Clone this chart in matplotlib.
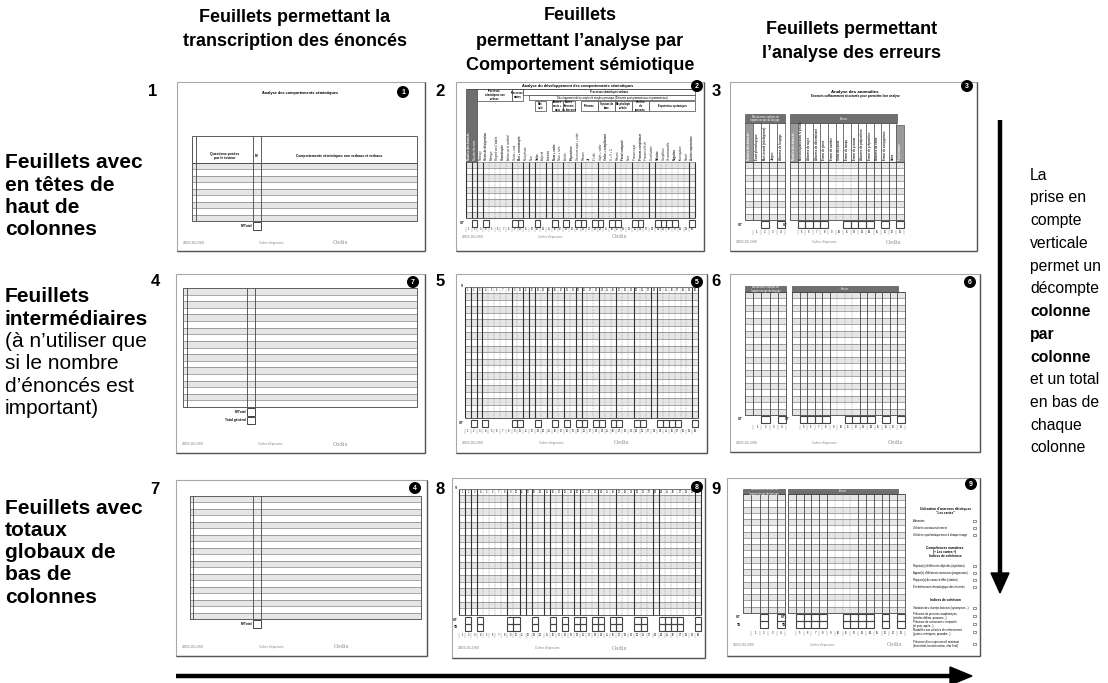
import matplotlib
matplotlib.use('Agg')
import matplotlib.pyplot as plt
from matplotlib.patches import Rectangle, Circle, Polygon

plt.rcParams['font.family'] = ['Liberation Sans', 'DejaVu Sans']

### Textes du schéma

col_titles = [
    ['Feuillets permettant la', 'transcription des énoncés'],
    ['Feuillets', 'permettant l’analyse par', 'Comportement sémiotique'],
    ['Feuillets permettant', 'l’analyse des erreurs'],
]

row_titles = [
    [('Feuillets avec', True), ('en têtes de', True), ('haut de', True), ('colonnes', True)],
    [('Feuillets', True), ('intermédiaires', True), ('(à n’utiliser que', False),
     ('si le nombre', False), ('d’énoncés est', False), ('important)', False)],
    [('Feuillets avec', True), ('totaux', True), ('globaux de', True), ('bas de', True), ('colonnes', True)],
]

side_note = [('La', False), ('prise en', False), ('compte', False), ('verticale', False),
             ('permet un', False), ('décompte', False), ('colonne', True), ('par', True),
             ('colonne', True), ('et un total', False), ('en bas de', False),
             ('chaque', False), ('colonne', False)]

sheet_numbers = ['1', '2', '3', '4', '5', '6', '7', '8', '9']
sheet_badges = ['1', '2', '3', '7', '5', '6', '4', '8', '9']

### Contenu des feuillets

transcription_rows = [9, 18, 19]          # feuillets 1, 4, 7
semio_rows = [9, 19, 18]                  # feuillets 2, 5, 8
anomaly_rows = [9, 19, 19]                # feuillets 3, 6, 9

semio_numbers = list(range(1, 41))
semio_boxed = [2, 4, 9, 10, 13, 16, 18, 20, 21, 23, 24, 26, 27, 30, 31, 34, 35, 36, 37, 40]
semio_solid = [1, 2, 3, 8, 10, 11, 12, 14, 15, 17, 19, 20, 23, 26, 29, 32, 33, 39]

semio_labels = ['Numéro des énoncés', 'Nombre de mots', 'Pointage', 'Geste de désignation',
                'Mimique', 'Regard vers l’adulte', 'Onomatopée', 'Action sur le matériel',
                'Geste + mot', 'Mot + onomatopée', 'Mot phrase', 'Nom', 'Verbe', 'Adjectif',
                'Adverbe', 'Nom + verbe', 'Nom + nom', 'Article', 'Préposition',
                'Structure sujet + verbe', 'Prénom', 'Je', 'Il / elle', 'Sujet + verbe',
                'Verbe + complément', 'S + V + C', 'Présent', 'Passé composé', 'Futur',
                'Pronom sujet', 'Pronom complément', 'Pronom réfléchi', 'Coordination',
                'Relative', 'Complétive', 'Circonstancielle', 'Négation', 'Interrogation',
                'Passif', 'Autres expansions']

semio_groups = [('Processus\nsémiotiques non\nverbaux', 3, 8, 0), ('Processus\nmixtes', 9, 10, 0),
                ('Processus sémiotiques verbaux', 11, 40, 0),
                ('Développement de la complexité morphosyntaxique (Eléments post grammaticaux et grammaticaux)', 12, 40, 1),
                ('Mot\nisolé', 13, 14, 2), ('Enoncé\nmots +\nmots', 16, 17, 2),
                ('Autres\néléments\ndu discours', 18, 19, 2), ('Prénoms', 21, 23, 2),
                ('Syntaxe de\nbase', 24, 26, 2), ('Morphologie\nverbale', 27, 29, 2),
                ('Gestion\ndes\npronoms', 30, 32, 2), ('Expansions syntaxiques', 33, 40, 2)]

anomaly_left_numbers = ['', '1', '2', '3', '4']
anomaly_right_numbers = [''] + [str(i) for i in range(5, 19)]
anomaly_left_boxed = ['2', '4']
anomaly_right_boxed = ['5', '6', '7', '8', '11', '12', '13', '14', '16', '18']
anomaly_left_labels = ['Numéro des énoncés', 'Ecart phonologique', 'Mot inventé (néologisme)',
                       'Jargon', 'Absence de langage']
anomaly_right_labels = ['Numéro des énoncés', 'Mot manquant dans la phrase', 'Absence de sujet',
                        'Absence de déterminant', 'Erreur de genre', 'Erreur de nombre',
                        'Ordre des mots', 'Erreur de temps', 'Erreur de pronom',
                        'Absence de préposition', 'Erreur de préposition', 'Absence de verbe',
                        'Erreur de conjugaison', 'Autre', 'Total erreurs']

sheet9_notes = [
    ('Utilisation d’anaroses déictiques\n"Les cartes"', True),
    ('Absentes', False),
    ('Utilisées occasionnellement', False),
    ('Utilisées systématiquement à chaque image', False),
    ('Compétences narratives\n(« Les cartes »)\nIndices de cohérence', True),
    ('Reprise(s) d’éléments déjà dits (répétition)', False),
    ('Apport(s) d’éléments nouveaux (progression)', False),
    ('Rapport(s) de cause à effet (relation)', False),
    ('Enchaînement chronologique des énoncés', False),
    ('Indices de cohésion', True),
    ('Variation des champs lexicaux (synonymes...)', False),
    ('Présence de pronoms anaphoriques\n(articles définis, pronoms...)', False),
    ('Présence de connecteurs temporels\n(et puis, après...)', False),
    ('Modalités non verbales de renforcement\n(gestes, mimiques, prosodie...)', False),
    ('Présence d’un script narratif minimum\n(état initial, transformation, état final)', False),
]
sheet9_notes_y = [511, 521, 528, 535, 552, 566, 573, 580, 587, 600, 608, 616, 624, 632, 644]


fig = plt.figure(figsize=(11.08, 6.83), dpi=100)
ax = fig.add_axes([0, 0, 1, 1])
ax.set_xlim(0, 1108)
ax.set_ylim(683, 0)
ax.axis('off')

DARK = '#444444'
STRIPE = '#e6e6e6'
TINY = 2.4


def box(x0, y0, x1, y1, fc='none', ec=DARK, lw=0.5, z=3, ls='-'):
    ax.add_patch(Rectangle((x0, y0), x1 - x0, y1 - y0, facecolor=fc, edgecolor=ec,
                           linewidth=lw, zorder=z, linestyle=ls))


def line(xs, ys, c=DARK, lw=0.5, ls='-', z=4):
    ax.plot(xs, ys, color=c, lw=lw, ls=ls, zorder=z, solid_capstyle='butt')


def frame(x0, y0, x1, y1):
    box(x0, y0, x1, y1, fc='white', ec='#a8a8a8', lw=0.8, z=1)
    line([x1, x1], [y0, y1], c='#555555', lw=1.0, z=2)
    line([x0, x1], [y1, y1], c='#555555', lw=1.0, z=2)


def badge(x, y, s):
    ax.add_patch(Circle((x, y), 5.3, color='black', zorder=6))
    ax.text(x, y + 0.3, s, color='white', fontsize=5, fontweight='bold',
            ha='center', va='center', zorder=7)


def footer(x0, x1, y):
    w = x1 - x0
    ax.text(x0 + 6, y, '2003-01-083', fontsize=2.8, color='#777777', va='center')
    ax.text(x0 + 0.33 * w, y, 'Cahier d’épreuves', fontsize=2.2, color='#888888', va='center')
    ax.text(x0 + 0.63 * w, y, 'Cedis', fontsize=4, color='#888888', va='center', family='serif')


def stripes(x0, x1, y0, y1, n):
    h = (y1 - y0) / n
    for i in range(n):
        if i % 2 == 0:
            box(x0, y0 + i * h, x1, y0 + (i + 1) * h, fc=STRIPE, ec='none', lw=0, z=2)
        line([x0, x1], [y0 + i * h, y0 + i * h], c='#666666', lw=0.4)


def transcription(nrows, x0, x1, top, head, bottom, cols, totals):
    box(x0, top, x1, bottom, lw=0.6, z=4)
    stripes(x0, x1, head, bottom, nrows)
    for cx in cols:
        line([cx, cx], [top, bottom], lw=0.6)
    for i, label in enumerate(totals):
        yb = bottom + 1 + i * 8.5
        box(cols[1], yb, cols[2], yb + 7.5, lw=0.7)
        ax.text(cols[1] - 1, yb + 3.8, label, fontsize=TINY, fontweight='bold', ha='right', va='center')
    if head > top:
        line([x0, x1], [head, head], lw=0.6)
        ax.text((cols[0] + cols[1]) / 2, head - 7, 'Questions posées\npar le testeur', fontsize=TINY,
                fontweight='bold', ha='center', va='center', linespacing=1.1)
        ax.text(cols[1] + 2, head - 7, 'N°', fontsize=TINY, fontweight='bold', va='center')
        ax.text((cols[2] + x1) / 2, head - 7, 'Comportements sémiotiques non verbaux et verbaux',
                fontsize=TINY, fontweight='bold', ha='center', va='center')
        ax.text((x0 + cols[0]) / 2, head - 2, 'Numéro de l’image', fontsize=1.6, rotation=90,
                ha='center', va='bottom')


def semio_grid(x0, x1, gtop, gbot, nrows, tot_labels, num_y, head_nums=None):
    n = len(semio_numbers)
    cw = (x1 - x0) / n
    stripes(x0, x1, gtop, gbot, nrows)
    line([x0, x1], [gbot, gbot], lw=0.6)
    top = gtop if head_nums is None else head_nums
    for i in range(n + 1):
        cx = x0 + i * cw
        if i == 0 or i == n or i in semio_solid:
            line([cx, cx], [top, gbot], lw=0.8, c='#333333')
        else:
            line([cx, cx], [top, gbot], lw=0.35, ls=(0, (1.5, 1.5)), c='#777777')
    if head_nums is not None:
        line([x0, x1], [head_nums, head_nums], lw=0.5)
        for i, v in enumerate(semio_numbers):
            ax.text(x0 + (i + 0.5) * cw, (head_nums + gtop) / 2, str(v), fontsize=1.8,
                    ha='center', va='center', zorder=5)
        ax.text(x0 - 1, head_nums - 1, 'N°', fontsize=2, ha='right', va='center')
    for j, lab in enumerate(tot_labels):
        yb = gbot + 1.5 + j * 7
        ax.text(x0 - 1, yb + 3.5, lab, fontsize=2.2, fontweight='bold', ha='right', va='center')
        for v in semio_boxed:
            bx = x0 + (v - 1) * cw
            box(bx, yb, bx + cw, yb + 7, lw=0.8, z=5)
    for i, v in enumerate(semio_numbers):
        cx = x0 + (i + 0.5) * cw
        ax.text(cx, num_y, str(v), fontsize=1.8, ha='center', va='center')
        line([x0 + i * cw, x0 + i * cw], [num_y - 2.5, num_y + 2.5], lw=0.3, c='#888888')


def semio_header(x0, x1, top, bottom):
    n = len(semio_numbers)
    cw = (x1 - x0) / n
    box(x0, top, x0 + 2 * cw, bottom, fc='#6e6e6e', ec='#444444', lw=0.5, z=3)
    levels = [(top, top + 12), (top + 6, top + 11), (top + 12, top + 22)]
    for label, c0, c1, lev in semio_groups:
        ya, yb = levels[lev]
        if lev == 0 and c0 == 11:
            yb = top + 6
        bx0, bx1 = x0 + (c0 - 1) * cw, x0 + c1 * cw
        box(bx0, ya, bx1, yb, fc='white', lw=0.5, z=4)
        ax.text((bx0 + bx1) / 2, (ya + yb) / 2, label, fontsize=1.8, ha='center', va='center',
                linespacing=1.0, zorder=5, fontweight='bold' if lev != 1 else 'normal')
    for i, lab in enumerate(semio_labels):
        cx = x0 + (i + 0.5) * cw
        col = 'white' if i < 2 else '#222222'
        ax.text(cx, bottom - 1.5, lab, fontsize=2.0, rotation=90, ha='center', va='bottom',
                color=col, zorder=5, fontweight='bold' if i % 3 == 0 else 'normal')
    line([x0, x1], [top, top], lw=0.5)


def anomaly_table(x0, x1, labels, numbers, boxed, htop, hbot, gtop, gbot, nrows, tot_labels,
                  num_y, title, title_x1, gray_last):
    n = len(numbers)
    cw = (x1 - x0) / n
    box(x0, htop, title_x1, hbot, fc='#6f6f6f', ec='#555555', lw=0.5, z=4)
    ax.text((x0 + title_x1) / 2, (htop + hbot) / 2, title, fontsize=1.8, color='white',
            ha='center', va='center', zorder=5, linespacing=1.0)
    if gtop > hbot:
        for i, lab in enumerate(labels):
            cx0 = x0 + i * cw
            gray = i == 0 or (gray_last and i == n - 1)
            ytop = hbot if not (gray_last and i == n - 1) else hbot + 2
            box(cx0, ytop, cx0 + cw, gtop, fc='#9a9a9a' if gray else 'white', ec='#555555', lw=0.5, z=3)
            ax.text(cx0 + cw / 2, gtop - 1.5, lab, fontsize=2.0, rotation=90, ha='center', va='bottom',
                    color='white' if gray else '#222222', zorder=5, fontweight='bold')
    stripes(x0, x1, gtop, gbot, nrows)
    box(x0, gtop, x1, gbot, lw=0.6, z=4)
    for i in range(1, n):
        cx = x0 + i * cw
        dashed = 6 <= i <= 8 and n > 5
        line([cx, cx], [gtop, gbot], lw=0.35 if dashed else 0.6,
             ls=(0, (1.5, 1.5)) if dashed else '-', c='#777777' if dashed else '#444444')
    for j, lab in enumerate(tot_labels):
        yb = gbot + 1 + j * 7
        ax.text(x0 - 2, yb + 3.5, lab, fontsize=2.2, fontweight='bold', ha='right', va='center')
        for i, v in enumerate(numbers):
            if v in boxed:
                box(x0 + i * cw, yb, x0 + (i + 1) * cw, yb + 7, lw=0.8, z=5)
    for i, v in enumerate(numbers):
        cx = x0 + (i + 0.5) * cw
        ax.text(cx, num_y, v, fontsize=1.9, ha='center', va='center')
        line([x0 + (i + 1) * cw, x0 + (i + 1) * cw], [num_y - 2.5, num_y + 2.5], lw=0.3, c='#888888')


### Cadres des feuillets

frames = [(177, 82, 425, 251), (456, 82, 704, 251), (730, 82, 977, 251),
          (176, 274, 425, 453), (456, 274, 707, 453), (730, 274, 980, 452),
          (176, 480, 427, 656), (452, 478, 705, 658), (727, 478, 980, 656)]
badge_pos = [(403, 92), (697, 86), (967, 86), (413, 282), (697, 282), (970, 282),
             (415, 488), (697, 487), (971, 484)]
number_pos = [(153, 92), (440, 92), (716, 92), (155, 281), (440, 281), (716, 281),
              (155, 489), (440, 489), (716, 489)]

for (x0, y0, x1, y1), bp, npos, num, bdg in zip(frames, badge_pos, number_pos, sheet_numbers, sheet_badges):
    frame(x0, y0, x1, y1)
    badge(bp[0], bp[1], bdg)
    ax.text(npos[0], npos[1], num, fontsize=12, fontweight='bold', ha='center', va='center')

# feuillet 1
ax.text(300, 93, 'Analyse des comportements sémiotiques', fontsize=2.8, fontweight='bold', ha='center', va='center')
transcription(transcription_rows[0], 192, 417, 136, 163, 221, [196, 253, 261], ['N°Total'])
footer(177, 425, 243)
# feuillet 4
transcription(transcription_rows[1], 183, 417, 288, 288, 407, [187, 247, 255], ['N°Total', 'Total général'])
footer(176, 425, 444)
# feuillet 7
transcription(transcription_rows[2], 190, 421, 496, 496, 619, [193, 253, 261], ['N°Total'])
footer(176, 427, 647)

# feuillet 2
ax.text(578, 86, 'Analyse du développement des comportements sémiotiques', fontsize=2.8,
        fontweight='bold', ha='center', va='center')
semio_header(466, 695, 89, 162)
semio_grid(466, 695, 162, 218, semio_rows[0], ['S/T'], 229)
footer(456, 704, 237)
# feuillet 5
semio_grid(465, 698, 293, 418, semio_rows[1], ['S/T'], 431, head_nums=287)
footer(456, 707, 443)
# feuillet 8
semio_grid(459, 701, 495, 615, semio_rows[2], ['S/T', 'TG'], 635, head_nums=489)
footer(452, 705, 648)

# feuillet 3
ax.text(855, 92, 'Analyse des anomalies', fontsize=3.2, fontweight='bold', ha='center', va='center')
ax.text(855, 96.5, 'Enoncés suffisamment structurés pour permettre leur analyse', fontsize=2.2,
        fontweight='bold', ha='center', va='center')
left_title = 'Mécanismes verbaux de\nl’apprentissage du langage'
anomaly_table(745, 785, anomaly_left_labels, anomaly_left_numbers, anomaly_left_boxed,
              114, 123, 162, 220, anomaly_rows[0], ['S/T'], 232, left_title, 785, False)
anomaly_table(790, 904, anomaly_right_labels, anomaly_right_numbers, anomaly_right_boxed,
              114, 123, 162, 220, anomaly_rows[0], ['S/T'], 232, 'Erreurs', 897, True)
footer(730, 977, 242)
# feuillet 6
anomaly_table(745, 786, anomaly_left_labels, anomaly_left_numbers, anomaly_left_boxed,
              286, 292, 292, 415, anomaly_rows[1], ['S/T'], 427, left_title, 786, False)
anomaly_table(792, 905, anomaly_right_labels, anomaly_right_numbers, anomaly_right_boxed,
              286, 292, 292, 415, anomaly_rows[1], ['S/T'], 427, 'Erreurs', 898, True)
footer(730, 980, 443)
# feuillet 9
anomaly_table(743, 785, anomaly_left_labels, anomaly_left_numbers, anomaly_left_boxed,
              489, 494, 494, 613, anomaly_rows[2], ['S/T', 'TG'], 633, left_title, 785, False)
anomaly_table(788, 905, anomaly_right_labels, anomaly_right_numbers, anomaly_right_boxed,
              489, 494, 494, 613, anomaly_rows[2], ['S/T', 'TG'], 633, 'Erreurs', 898, True)
footer(727, 980, 645)
for (txt, is_title), yy in zip(sheet9_notes, sheet9_notes_y):
    if is_title:
        ax.text(945, yy, txt, fontsize=2.3, fontweight='bold', ha='center', va='center', linespacing=1.0)
    else:
        ax.text(913, yy, txt, fontsize=2.0, ha='left', va='center', linespacing=1.0)
        box(973, yy - 1.3, 975.5, yy + 1.3, lw=0.4)

### Titres

col_x = [295, 580, 852]
col_y = [[18, 41], [16, 41, 65], [30, 53]]
for x, lines, ys in zip(col_x, col_titles, col_y):
    for s, y in zip(lines, ys):
        ax.text(x, y, s, fontsize=13, fontweight='bold', ha='center', va='center')

row_y0 = [163, 297, 508]
for lines, y0 in zip(row_titles, row_y0):
    for k, (s, bold) in enumerate(lines):
        ax.text(5, y0 + k * 22.3, s, fontsize=15, fontweight='bold' if bold else 'normal',
                ha='left', va='center')

for k, (s, bold) in enumerate(side_note):
    ax.text(1030, 175 + k * 22.75, s, fontsize=11.3, fontweight='bold' if bold else 'normal',
            ha='left', va='center')

### Flèches

line([1000, 1000], [120, 575], c='black', lw=3.2, z=8)
ax.add_patch(Polygon([(991, 573), (1009, 573), (1000, 593)], closed=True, color='black', zorder=8))
line([176, 952], [676, 676], c='black', lw=3.2, z=8)
ax.add_patch(Polygon([(950, 667), (950, 685), (972, 676)], closed=True, color='black', zorder=8))

plt.savefig('out.png', dpi=100)
